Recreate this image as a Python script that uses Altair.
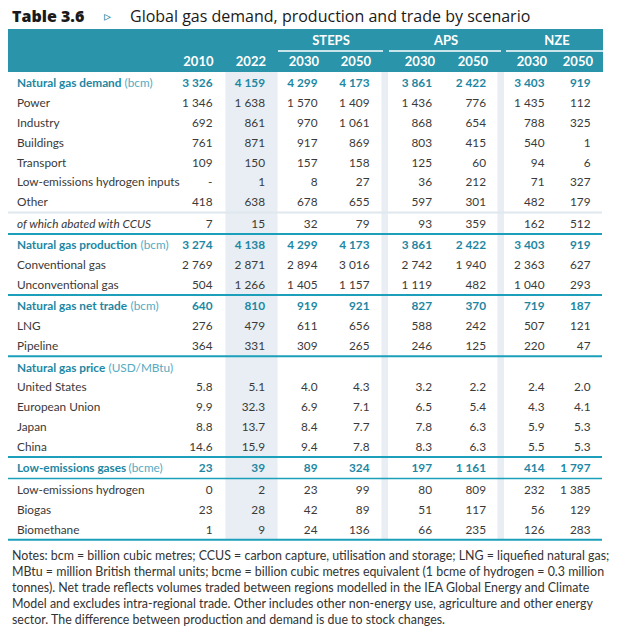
import altair as alt
import pandas as pd

# ---------------- data ----------------
title_label = "Table 3.6"
title_text = "Global gas demand, production and trade by scenario"
scenarios = ["STEPS", "APS", "NZE"]
years = ["2010", "2022", "2030", "2050", "2030", "2050", "2030", "2050"]

demand_total = [3326, 4159, 4299, 4173, 3861, 2422, 3403, 919]
power = [1346, 1638, 1570, 1409, 1436, 776, 1435, 112]
industry = [692, 861, 970, 1061, 868, 654, 788, 325]
buildings = [761, 871, 917, 869, 803, 415, 540, 1]
transport = [109, 150, 157, 158, 125, 60, 94, 6]
h2_inputs = [None, 1, 8, 27, 36, 212, 71, 327]
other = [418, 638, 678, 655, 597, 301, 482, 179]
abated_ccus = [7, 15, 32, 79, 93, 359, 162, 512]
production_total = [3274, 4138, 4299, 4173, 3861, 2422, 3403, 919]
conventional = [2769, 2871, 2894, 3016, 2742, 1940, 2363, 627]
unconventional = [504, 1266, 1405, 1157, 1119, 482, 1040, 293]
trade_total = [640, 810, 919, 921, 827, 370, 719, 187]
lng = [276, 479, 611, 656, 588, 242, 507, 121]
pipeline = [364, 331, 309, 265, 246, 125, 220, 47]
price_us = [5.8, 5.1, 4.0, 4.3, 3.2, 2.2, 2.4, 2.0]
price_eu = [9.9, 32.3, 6.9, 7.1, 6.5, 5.4, 4.3, 4.1]
price_jp = [8.8, 13.7, 8.4, 7.7, 7.8, 6.3, 5.9, 5.3]
price_cn = [14.6, 15.9, 9.4, 7.8, 8.3, 6.3, 5.5, 5.3]
lowem_total = [23, 39, 89, 324, 197, 1161, 414, 1797]
lowem_h2 = [0, 2, 23, 99, 80, 809, 232, 1385]
biogas = [23, 28, 42, 89, 51, 117, 56, 129]
biomethane = [1, 9, 24, 136, 66, 235, 126, 283]

# (kind, label, unit, values, decimals, separator_after)
rows = [
    ("section", "Natural gas demand", "(bcm)", demand_total, 0, None),
    ("item", "Power", "", power, 0, None),
    ("item", "Industry", "", industry, 0, None),
    ("item", "Buildings", "", buildings, 0, None),
    ("item", "Transport", "", transport, 0, None),
    ("item", "Low-emissions hydrogen inputs", "", h2_inputs, 0, None),
    ("item", "Other", "", other, 0, "light"),
    ("italic", "of which abated with CCUS", "", abated_ccus, 0, "teal"),
    ("section", "Natural gas production", "(bcm)", production_total, 0, None),
    ("item", "Conventional gas", "", conventional, 0, None),
    ("item", "Unconventional gas", "", unconventional, 0, "teal"),
    ("section", "Natural gas net trade", "(bcm)", trade_total, 0, None),
    ("item", "LNG", "", lng, 0, None),
    ("item", "Pipeline", "", pipeline, 0, "teal"),
    ("section", "Natural gas price", "(USD/MBtu)", None, 1, None),
    ("item", "United States", "", price_us, 1, None),
    ("item", "European Union", "", price_eu, 1, None),
    ("item", "Japan", "", price_jp, 1, None),
    ("item", "China", "", price_cn, 1, "teal"),
    ("section", "Low-emissions gases", "(bcme)", lowem_total, 0, "thin"),
    ("item", "Low-emissions hydrogen", "", lowem_h2, 0, None),
    ("item", "Biogas", "", biogas, 0, None),
    ("item", "Biomethane", "", biomethane, 0, "teal"),
]

notes = [
    "Notes: bcm = billion cubic metres; CCUS = carbon capture, utilisation and storage; LNG = liquefied natural gas;",
    "MBtu = million British thermal units; bcme = billion cubic metres equivalent (1 bcme of hydrogen = 0.3 million",
    "tonnes). Net trade reflects volumes traded between regions modelled in the IEA Global Energy and Climate",
    "Model and excludes intra-regional trade. Other includes other non-energy use, agriculture and other energy",
    "sector. The difference between production and demand is due to stock changes.",
]

# ---------------- layout (page pixel coordinates) ----------------
TEAL_BAND = "#2a94aa"
TEAL_LINE = "#1b9fba"
TEAL_TEXT = "#1d87a3"
TEAL_UNIT = "#55abc2"
SHADE = "#e8eef3"
TEXT = "#3a3a3a"

col_right = [212.5, 265, 317.5, 369.5, 432, 486, 544.5, 590.5]
head_right = [213.5, 266, 319, 371, 435, 488, 547, 593]
scen_center = [331, 446, 557]
scen_line = [(278, 383), (389, 501), (506, 604)]
label_x = 17
unit_x = [124.5, 140.5, 130.5, 108.5, 128.5]
table_left, table_right = 8, 603
header_top, header_bottom = 29, 72
row_start, pitch, gap = 83.2, 19.85, 1.6
BODY_SIZE = 11.8

def fmt(v, dec):
    if v is None:
        return "-"
    if dec:
        return f"{v:.{dec}f}"
    return f"{int(v):,}".replace(",", " ")

texts = []   # x, y, text, color, size, style
rules = []   # x, x2, y, color, width
y = row_start
sec_i = 0
table_end = None
for i, (kind, label, unit, vals, dec, sep) in enumerate(rows):
    if kind == "section":
        texts.append((label_x, y, label, TEAL_TEXT, BODY_SIZE, "sec"))
        texts.append((unit_x[sec_i], y, unit, TEAL_UNIT, BODY_SIZE, "left"))
        sec_i += 1
    elif kind == "italic":
        texts.append((label_x, y, label, TEXT, BODY_SIZE, "ital"))
    else:
        texts.append((label_x, y, label, TEXT, BODY_SIZE, "left"))
    if vals is not None:
        for c, v in enumerate(vals):
            texts.append((col_right[c], y, fmt(v, dec), TEAL_TEXT if kind == "section" else TEXT,
                          BODY_SIZE, "secval" if kind == "section" else "right"))
    ly = y + 10.2
    if sep == "light":
        rules.append((table_left, table_right - 1, ly, "#dfe8ee", 2))
    elif sep == "teal":
        rules.append((table_left, table_right - 1, ly, TEAL_LINE, 2))
    elif sep == "thin":
        rules.append((table_left, table_right - 1, ly, TEAL_LINE, 1.5))
    table_end = ly
    y += pitch + (gap if sep else 0)

rects = [
    (table_left, table_right, header_top, header_bottom, TEAL_BAND),
    (225.5, 277.5, header_bottom, table_end, SHADE),
    (381.5, 388, header_bottom, table_end, SHADE),
    (497.5, 504, header_bottom, table_end, SHADE),
]
for a, b in scen_line:
    rules.append((a, b, 51, "#ffffff", 1.5))

header = []
for c, s in enumerate(scenarios):
    header.append((scen_center[c], 41, s, "center"))
for c, yr in enumerate(years):
    header.append((head_right[c], 62, yr, "right"))

for k, line in enumerate(notes):
    texts.append((12, 556 + k * 16.1, line, "#333333", 12.4, "note"))

texts.append((12, 16.5, title_label, "#1a1a1a", 16, "title"))
texts.append((104, 17, "\u25b9", TEAL_TEXT, 14, "tri"))
texts.append((130, 16.5, title_text, "#1a1a1a", 16, "title2"))

tdf = pd.DataFrame(texts, columns=["x", "y", "text", "color", "size", "style"])
rdf = pd.DataFrame(rules, columns=["x", "x2", "y", "color", "w"])
bdf = pd.DataFrame(rects, columns=["x", "x2", "y", "y2", "color"])
hdf = pd.DataFrame(header, columns=["x", "y", "text", "align"])

W, H = 608, 622
xs = alt.Scale(domain=[8, 8 + W], range=[0, W], nice=False, zero=False)
ys = alt.Scale(domain=[8, 8 + H], range=[0, H], nice=False, zero=False)
X = lambda f="x": alt.X(f"{f}:Q", scale=xs, axis=None)
Y = lambda f="y": alt.Y(f"{f}:Q", scale=ys, axis=None)

band = alt.Chart(bdf).mark_rect().encode(
    x=X(), x2="x2", y=Y(), y2="y2", color=alt.Color("color:N", scale=None))
lines = alt.Chart(rdf).mark_rule().encode(
    x=X(), x2="x2", y=Y(), color=alt.Color("color:N", scale=None),
    strokeWidth=alt.StrokeWidth("w:Q", scale=None))

BODY = "Lato"
HEAD = "Liberation Sans Narrow, Lato, sans-serif"

def tl(style, align, weight="normal", font=BODY, fstyle="normal"):
    return alt.Chart(tdf).transform_filter(alt.datum.style == style).mark_text(
        align=align, baseline="middle", font=font, fontWeight=weight, fontStyle=fstyle
    ).encode(x=X(), y=Y(), text="text:N", color=alt.Color("color:N", scale=None),
             size=alt.Size("size:Q", scale=None))

layers = [
    band, lines,
    tl("left", "left"),
    tl("ital", "left", fstyle="italic"),
    tl("sec", "left", weight="bold"),
    tl("right", "right"),
    tl("secval", "right", weight="bold"),
    tl("note", "left"),
    tl("title", "left", weight=800, font="Open Sans"),
    tl("tri", "left"),
    tl("title2", "left", font="Open Sans"),
]
for al in ["center", "right"]:
    layers.append(alt.Chart(hdf).transform_filter(alt.datum.align == al).mark_text(
        align=al, baseline="middle", font=HEAD, fontWeight="bold", fontSize=13, color="#ffffff"
    ).encode(x=X(), y=Y(), text="text:N"))

chart = alt.layer(*layers).properties(
    width=W, height=H, padding=0, autosize=alt.AutoSizeParams(type="none")
).configure_view(stroke=None)

chart.save("out.html", embed_options={"renderer": "svg", "actions": False})
